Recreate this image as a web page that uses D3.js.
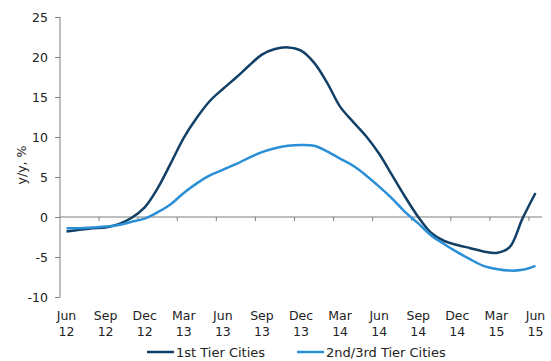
<!DOCTYPE html>
<html>
<head>
<meta charset="utf-8">
<script src="https://cdn.jsdelivr.net/npm/d3@7"></script>
<style>
  body { margin: 0; background: #fff; }
  svg { display: block; font-family: "DejaVu Sans", Verdana, sans-serif; }
</style>
</head>
<body>
<svg id="chart" width="551" height="361"></svg>
<script>
const months = ["Jun 12","Jul 12","Aug 12","Sep 12","Oct 12","Nov 12","Dec 12","Jan 13","Feb 13","Mar 13","Apr 13","May 13",
  "Jun 13","Jul 13","Aug 13","Sep 13","Oct 13","Nov 13","Dec 13","Jan 14","Feb 14","Mar 14","Apr 14","May 14",
  "Jun 14","Jul 14","Aug 14","Sep 14","Oct 14","Nov 14","Dec 14","Jan 15","Feb 15","Mar 15","Apr 15","May 15","Jun 15"];
const tier1 = [-1.8,-1.6,-1.4,-1.3,-0.9,-0.1,1.2,3.6,6.7,9.9,12.4,14.5,
  16.0,17.4,18.9,20.3,21.0,21.2,20.8,19.3,16.8,13.8,11.9,10.1,
  7.9,5.2,2.5,0.0,-2.0,-3.0,-3.5,-3.9,-4.3,-4.5,-3.8,-0.2,3.0];
const tier23 = [-1.4,-1.4,-1.3,-1.2,-1.0,-0.6,-0.2,0.6,1.6,3.0,4.2,5.2,
  5.9,6.6,7.4,8.1,8.6,8.9,9.0,8.9,8.2,7.3,6.4,5.2,
  3.8,2.3,0.6,-0.8,-2.3,-3.4,-4.4,-5.3,-6.1,-6.5,-6.7,-6.6,-6.1];
const yTicks = [-10,-5,0,5,10,15,20,25];
const seriesNames = ["1st Tier Cities","2nd/3rd Tier Cities"];
const colors = ["#123f66","#2b8fd6"];

const svg = d3.select("#chart");
const x = d3.scaleBand().domain(months).range([60, 542]);
const y = d3.scaleLinear().domain([-10, 25]).range([297, 17]);
const cx = m => x(m) + x.bandwidth() / 2;
const textColor = "#222";
const axisColor = "#7f7f7f";

// Y axis
const yAxis = svg.append("g").attr("transform", "translate(60,0)")
  .call(d3.axisLeft(y).tickValues(yTicks).tickSize(5).tickPadding(7).tickFormat(d => String(d)));
yAxis.select(".domain").attr("stroke", axisColor).attr("d", `M0,${y(25)}V${y(-10)}`);
yAxis.selectAll(".tick line").attr("stroke", axisColor);
yAxis.selectAll("text").attr("font-size", 12.5).attr("fill", textColor).attr("font-family", "DejaVu Sans, sans-serif");

// X axis line at zero
svg.append("line").attr("x1", 60).attr("x2", 542).attr("y1", y(0)).attr("y2", y(0))
  .attr("stroke", axisColor).attr("stroke-width", 1);
// tick marks at band boundaries, every 3 months
const tickMonths = months.filter((m, i) => i > 0 && i % 3 === 0);
svg.append("g").selectAll("line").data(tickMonths).join("line")
  .attr("x1", d => x(d)).attr("x2", d => x(d))
  .attr("y1", y(0)).attr("y2", y(0) + 4)
  .attr("stroke", axisColor);
// labels
const labelMonths = months.filter((m, i) => i % 3 === 0);
const lbl = svg.append("g").selectAll("text").data(labelMonths).join("text")
  .attr("x", d => cx(d)).attr("text-anchor", "middle")
  .attr("font-size", 12.5).attr("fill", textColor);
lbl.append("tspan").attr("x", d => cx(d)).attr("y", 320).text(d => d.split(" ")[0]);
lbl.append("tspan").attr("x", d => cx(d)).attr("y", 336).text(d => d.split(" ")[1]);

// Y title
svg.append("text").attr("transform", `translate(26,${y(6.5)}) rotate(-90)`)
  .attr("text-anchor", "middle").attr("font-size", 12.5).attr("fill", textColor)
  .text("y/y, %");

// Lines
const line = d3.line().x((d, i) => cx(months[i])).y(d => y(d)).curve(d3.curveCatmullRom.alpha(0.5));
[tier1, tier23].forEach((s, k) => {
  svg.append("path").datum(s).attr("d", line)
    .attr("fill", "none").attr("stroke", colors[k]).attr("stroke-width", 2.5)
    .attr("stroke-linejoin", "round");
});

// Legend
const legendX = [147, 297];
seriesNames.forEach((n, k) => {
  svg.append("line").attr("x1", legendX[k]).attr("x2", legendX[k] + 27)
    .attr("y1", 352).attr("y2", 352).attr("stroke", colors[k]).attr("stroke-width", 2.5);
  svg.append("text").attr("x", legendX[k] + 29).attr("y", 356.5)
    .attr("font-size", 13).attr("fill", textColor).text(n);
});
</script>
</body>
</html>
